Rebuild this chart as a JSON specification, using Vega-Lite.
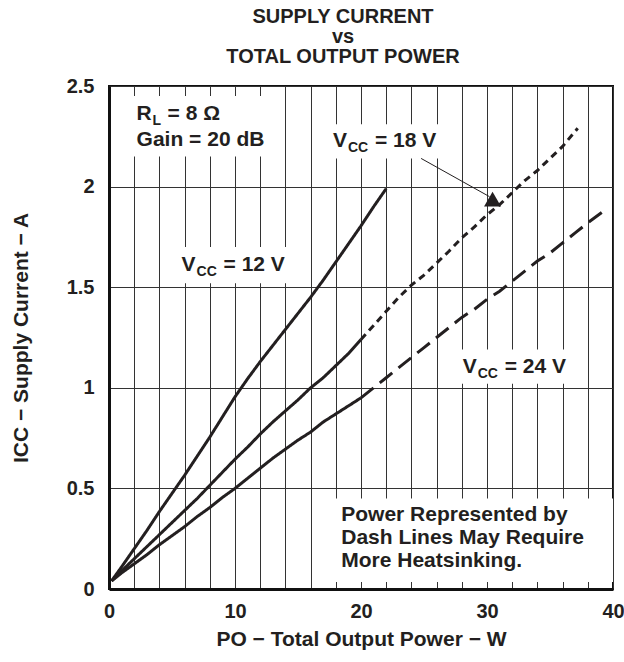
{
  "$schema": "https://vega.github.io/schema/vega-lite/v6.json",
  "width": 504,
  "height": 503,
  "autosize": "none",
  "padding": {"left": 109, "top": 86, "right": 11, "bottom": 73},
  "background": "white",
  "config": {
    "font": "Liberation Sans",
    "view": {"stroke": "#111111", "strokeWidth": 2}
  },
  "title": {
    "text": ["SUPPLY CURRENT", "vs", "TOTAL OUTPUT POWER"],
    "fontSize": 20,
    "fontWeight": "bold",
    "lineHeight": 20,
    "anchor": "middle",
    "frame": "group",
    "dx": -18,
    "offset": 9,
    "color": "#231f20"
  },
  "datasets": {
    "curves": [
      {"seg": "12 V", "p": 0.2, "i": 0.04}, {"seg": "12 V", "p": 1, "i": 0.11}, {"seg": "12 V", "p": 2, "i": 0.2}, {"seg": "12 V", "p": 3, "i": 0.29}, {"seg": "12 V", "p": 4, "i": 0.385}, {"seg": "12 V", "p": 5, "i": 0.475}, {"seg": "12 V", "p": 6, "i": 0.565}, {"seg": "12 V", "p": 7, "i": 0.66}, {"seg": "12 V", "p": 8, "i": 0.755}, {"seg": "12 V", "p": 9, "i": 0.855}, {"seg": "12 V", "p": 10, "i": 0.955}, {"seg": "12 V", "p": 11, "i": 1.045}, {"seg": "12 V", "p": 12, "i": 1.13}, {"seg": "12 V", "p": 13, "i": 1.21}, {"seg": "12 V", "p": 14, "i": 1.29}, {"seg": "12 V", "p": 15, "i": 1.37}, {"seg": "12 V", "p": 16, "i": 1.45}, {"seg": "12 V", "p": 17, "i": 1.535}, {"seg": "12 V", "p": 18, "i": 1.625}, {"seg": "12 V", "p": 19, "i": 1.715}, {"seg": "12 V", "p": 20, "i": 1.805}, {"seg": "12 V", "p": 21, "i": 1.9}, {"seg": "12 V", "p": 22, "i": 1.99},
      {"seg": "18 V rated", "p": 0.2, "i": 0.04}, {"seg": "18 V rated", "p": 1, "i": 0.09}, {"seg": "18 V rated", "p": 2, "i": 0.15}, {"seg": "18 V rated", "p": 3, "i": 0.21}, {"seg": "18 V rated", "p": 4, "i": 0.27}, {"seg": "18 V rated", "p": 5, "i": 0.33}, {"seg": "18 V rated", "p": 6, "i": 0.39}, {"seg": "18 V rated", "p": 7, "i": 0.45}, {"seg": "18 V rated", "p": 8, "i": 0.515}, {"seg": "18 V rated", "p": 9, "i": 0.58}, {"seg": "18 V rated", "p": 10, "i": 0.645}, {"seg": "18 V rated", "p": 11, "i": 0.705}, {"seg": "18 V rated", "p": 12, "i": 0.77}, {"seg": "18 V rated", "p": 13, "i": 0.83}, {"seg": "18 V rated", "p": 14, "i": 0.885}, {"seg": "18 V rated", "p": 15, "i": 0.94}, {"seg": "18 V rated", "p": 16, "i": 1.0}, {"seg": "18 V rated", "p": 17, "i": 1.05}, {"seg": "18 V rated", "p": 18, "i": 1.11}, {"seg": "18 V rated", "p": 19, "i": 1.17}, {"seg": "18 V rated", "p": 20, "i": 1.24},
      {"seg": "18 V heat", "p": 20, "i": 1.24}, {"seg": "18 V heat", "p": 21, "i": 1.31}, {"seg": "18 V heat", "p": 22, "i": 1.38}, {"seg": "18 V heat", "p": 23, "i": 1.45}, {"seg": "18 V heat", "p": 24, "i": 1.51}, {"seg": "18 V heat", "p": 25, "i": 1.56}, {"seg": "18 V heat", "p": 26, "i": 1.62}, {"seg": "18 V heat", "p": 27, "i": 1.68}, {"seg": "18 V heat", "p": 28, "i": 1.745}, {"seg": "18 V heat", "p": 29, "i": 1.8}, {"seg": "18 V heat", "p": 30, "i": 1.86}, {"seg": "18 V heat", "p": 31, "i": 1.91}, {"seg": "18 V heat", "p": 32, "i": 1.97}, {"seg": "18 V heat", "p": 33, "i": 2.03}, {"seg": "18 V heat", "p": 34, "i": 2.08}, {"seg": "18 V heat", "p": 35, "i": 2.14}, {"seg": "18 V heat", "p": 36, "i": 2.2}, {"seg": "18 V heat", "p": 37.2, "i": 2.29},
      {"seg": "24 V rated", "p": 0.2, "i": 0.04}, {"seg": "24 V rated", "p": 1, "i": 0.08}, {"seg": "24 V rated", "p": 2, "i": 0.125}, {"seg": "24 V rated", "p": 3, "i": 0.17}, {"seg": "24 V rated", "p": 4, "i": 0.22}, {"seg": "24 V rated", "p": 5, "i": 0.265}, {"seg": "24 V rated", "p": 6, "i": 0.31}, {"seg": "24 V rated", "p": 7, "i": 0.36}, {"seg": "24 V rated", "p": 8, "i": 0.405}, {"seg": "24 V rated", "p": 9, "i": 0.455}, {"seg": "24 V rated", "p": 10, "i": 0.5}, {"seg": "24 V rated", "p": 11, "i": 0.55}, {"seg": "24 V rated", "p": 12, "i": 0.6}, {"seg": "24 V rated", "p": 13, "i": 0.65}, {"seg": "24 V rated", "p": 14, "i": 0.695}, {"seg": "24 V rated", "p": 15, "i": 0.74}, {"seg": "24 V rated", "p": 16, "i": 0.78}, {"seg": "24 V rated", "p": 17, "i": 0.83}, {"seg": "24 V rated", "p": 18, "i": 0.87}, {"seg": "24 V rated", "p": 19, "i": 0.91}, {"seg": "24 V rated", "p": 20, "i": 0.95},
      {"seg": "24 V heat", "p": 20, "i": 0.95}, {"seg": "24 V heat", "p": 21, "i": 1.0}, {"seg": "24 V heat", "p": 22, "i": 1.05}, {"seg": "24 V heat", "p": 23, "i": 1.1}, {"seg": "24 V heat", "p": 24, "i": 1.15}, {"seg": "24 V heat", "p": 25, "i": 1.2}, {"seg": "24 V heat", "p": 26, "i": 1.25}, {"seg": "24 V heat", "p": 27, "i": 1.3}, {"seg": "24 V heat", "p": 28, "i": 1.35}, {"seg": "24 V heat", "p": 29, "i": 1.39}, {"seg": "24 V heat", "p": 30, "i": 1.44}, {"seg": "24 V heat", "p": 31, "i": 1.48}, {"seg": "24 V heat", "p": 32, "i": 1.53}, {"seg": "24 V heat", "p": 33, "i": 1.58}, {"seg": "24 V heat", "p": 34, "i": 1.63}, {"seg": "24 V heat", "p": 35, "i": 1.67}, {"seg": "24 V heat", "p": 36, "i": 1.72}, {"seg": "24 V heat", "p": 37, "i": 1.77}, {"seg": "24 V heat", "p": 38, "i": 1.82}, {"seg": "24 V heat", "p": 39.3, "i": 1.88}
    ],
    "boxes": [
      {"p": 1.0, "p2": 13.5, "i": 2.15, "i2": 2.45},
      {"p": 5.0, "p2": 14.5, "i": 1.52, "i2": 1.7},
      {"p": 17.5, "p2": 26.6, "i": 2.14, "i2": 2.31},
      {"p": 27.0, "p2": 37.0, "i": 1.02, "i2": 1.19},
      {"p": 17.9, "p2": 40.0, "i": 0.035, "i2": 0.45}
    ],
    "vcc": [
      {"p": 5.76, "i": 1.582, "main": "= 12 V"},
      {"p": 17.77, "i": 2.198, "main": "= 18 V"},
      {"p": 28.07, "i": 1.075, "main": "= 24 V"}
    ],
    "cond": [{"p": 2.19, "i": 2.33}],
    "gain": [{"p": 2.19, "i": 2.202}],
    "note": [{"p": 18.43, "i": 0.339}],
    "arrow": [{"p": 24.77, "i": 2.14, "p2": 30.2, "i2": 1.95}],
    "head": [{"p": 30.44, "i": 1.938}]
  },
  "encoding": {
    "x": {
      "field": "p",
      "type": "quantitative",
      "scale": {"domain": [0, 40], "nice": false, "zero": false},
      "axis": {
        "values": [0, 2, 4, 6, 8, 10, 12, 14, 16, 18, 20, 22, 24, 26, 28, 30, 32, 34, 36, 38, 40],
        "labelExpr": "datum.value % 10 === 0 ? datum.label : ''",
        "labelOverlap": false,
        "labelFlush": false,
        "grid": true,
        "gridColor": "#333333",
        "gridWidth": 1,
        "ticks": false,
        "domain": true,
        "domainColor": "#111111",
        "domainWidth": 3,
        "labelFontSize": 20,
        "labelFontWeight": "bold",
        "labelColor": "#231f20",
        "labelPadding": 12,
        "title": "PO − Total Output Power − W",
        "titleFontSize": 21,
        "titleFontWeight": "bold",
        "titleColor": "#231f20",
        "titlePadding": 7
      }
    },
    "y": {
      "field": "i",
      "type": "quantitative",
      "scale": {"domain": [0, 2.5], "nice": false},
      "axis": {
        "values": [0, 0.5, 1, 1.5, 2, 2.5],
        "format": "~g",
        "grid": true,
        "gridColor": "#333333",
        "gridWidth": 1,
        "ticks": false,
        "domain": true,
        "domainColor": "#111111",
        "domainWidth": 3,
        "labelFontSize": 20,
        "labelFontWeight": "bold",
        "labelColor": "#231f20",
        "labelPadding": 15,
        "title": "ICC − Supply Current − A",
        "titleFontSize": 21,
        "titleFontWeight": "bold",
        "titleColor": "#231f20",
        "titlePadding": 35
      }
    }
  },
  "layer": [
    {
      "data": {"name": "boxes"},
      "mark": {"type": "rect", "color": "white"},
      "encoding": {"x2": {"field": "p2"}, "y2": {"field": "i2"}}
    },
    {
      "data": {"name": "curves"},
      "mark": {"type": "line", "strokeWidth": 3, "color": "#231f20", "strokeCap": "butt"},
      "encoding": {
        "strokeDash": {
          "field": "seg",
          "type": "nominal",
          "scale": {
            "domain": ["12 V", "18 V rated", "18 V heat", "24 V rated", "24 V heat"],
            "range": [[1, 0], [1, 0], [7, 5], [1, 0], [16, 8]]
          },
          "legend": null
        },
        "order": {"field": "p", "type": "quantitative"}
      }
    },
    {
      "data": {"name": "arrow"},
      "mark": {"type": "rule", "strokeWidth": 1, "color": "#231f20"},
      "encoding": {"x2": {"field": "p2"}, "y2": {"field": "i2"}}
    },
    {
      "data": {"name": "head"},
      "mark": {"type": "point", "shape": "triangle-up", "size": 289, "filled": true, "color": "#231f20", "opacity": 1}
    },
    {
      "data": {"name": "vcc"},
      "mark": {"type": "text", "text": "V", "align": "left", "baseline": "alphabetic", "fontSize": 21, "fontWeight": "bold", "color": "#231f20"}
    },
    {
      "data": {"name": "vcc"},
      "mark": {"type": "text", "text": "CC", "align": "left", "baseline": "alphabetic", "fontSize": 14, "fontWeight": "bold", "dx": 15, "dy": 5, "color": "#231f20"}
    },
    {
      "data": {"name": "vcc"},
      "mark": {"type": "text", "align": "left", "baseline": "alphabetic", "fontSize": 21, "fontWeight": "bold", "dx": 42, "color": "#231f20"},
      "encoding": {"text": {"field": "main"}}
    },
    {
      "data": {"name": "cond"},
      "mark": {"type": "text", "text": "R", "align": "left", "baseline": "alphabetic", "fontSize": 21, "fontWeight": "bold", "color": "#231f20"}
    },
    {
      "data": {"name": "cond"},
      "mark": {"type": "text", "text": "L", "align": "left", "baseline": "alphabetic", "fontSize": 14, "fontWeight": "bold", "dx": 16, "dy": 5, "color": "#231f20"}
    },
    {
      "data": {"name": "cond"},
      "mark": {"type": "text", "text": "= 8 Ω", "align": "left", "baseline": "alphabetic", "fontSize": 21, "fontWeight": "bold", "dx": 31, "color": "#231f20"}
    },
    {
      "data": {"name": "gain"},
      "mark": {"type": "text", "text": "Gain = 20 dB", "align": "left", "baseline": "alphabetic", "fontSize": 21, "fontWeight": "bold", "color": "#231f20"}
    },
    {
      "data": {"name": "note"},
      "mark": {"type": "text", "text": ["Power Represented by", "Dash Lines May Require", "More Heatsinking."], "lineHeight": 23, "align": "left", "baseline": "alphabetic", "fontSize": 21, "fontWeight": "bold", "color": "#231f20"}
    }
  ]
}
